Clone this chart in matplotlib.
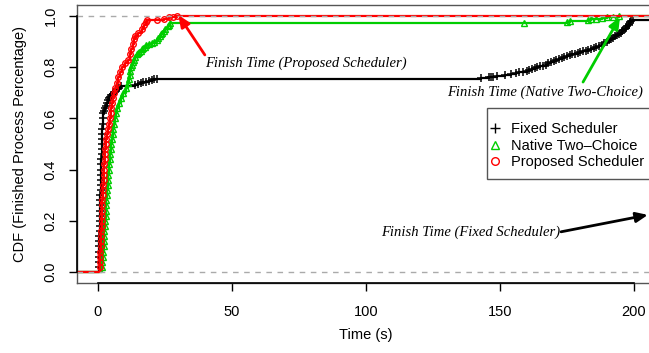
import matplotlib
matplotlib.use("Agg")
import matplotlib.pyplot as plt
from matplotlib.patches import Rectangle

# Completion times (s) and cumulative fraction of finished processes
fixed_t = [0.25, 0.3, 0.35, 0.4, 0.45, 0.5, 0.55, 0.6, 0.65, 0.7, 0.75, 0.8, 0.85,
           0.9, 0.95, 1.0, 1.05, 1.1, 1.15, 1.2, 1.25, 1.3, 1.35, 1.4, 1.45, 1.5,
           1.6, 1.7, 1.8, 1.9, 2.0,
           2.3, 2.6, 3.0, 3.3, 3.7, 4.1, 4.5, 5.0, 5.5, 5.9, 6.4, 6.8, 7.3, 7.8,
           8.5, 14.0, 15.0, 16.0, 17.0, 18.0, 19.0, 20.0, 21.0, 22.0,
           143.0, 146.0, 146.5, 147.5, 149.0, 152.0, 154.0, 156.0, 157.0, 158.5,
           160.0, 161.0, 162.0, 163.0, 164.0, 165.0, 166.0, 167.0, 168.0, 169.0,
           170.0, 171.0, 172.0, 173.0, 174.0, 175.0, 176.0, 177.0, 178.0, 179.0,
           180.0, 181.0, 182.0, 183.0, 184.0, 185.0, 186.0, 187.0, 188.0, 189.0,
           190.0, 190.8, 191.5, 192.3, 193.0, 193.8, 194.5, 195.0, 195.5, 196.0,
           196.5, 197.0, 197.5, 198.0, 198.3, 198.7, 199.0, 199.7]
fixed_p = [0.02, 0.04, 0.06, 0.08, 0.10, 0.12, 0.14, 0.16, 0.18, 0.20, 0.22, 0.24,
           0.26, 0.28, 0.30, 0.32, 0.34, 0.36, 0.38, 0.40, 0.42, 0.44, 0.46, 0.48,
           0.50, 0.52, 0.54, 0.56, 0.58, 0.60, 0.62,
           0.63, 0.64, 0.65, 0.66, 0.67, 0.68, 0.685, 0.69, 0.695, 0.70, 0.705,
           0.71, 0.715, 0.72, 0.725, 0.73, 0.734, 0.738, 0.741, 0.744, 0.747,
           0.75, 0.752, 0.754,
           0.757, 0.76, 0.761, 0.763, 0.766, 0.77, 0.774, 0.778, 0.78, 0.782,
           0.786, 0.79, 0.793, 0.796, 0.80, 0.803, 0.806, 0.81, 0.815, 0.82,
           0.825, 0.83, 0.833, 0.836, 0.84, 0.845, 0.848, 0.85, 0.853, 0.856,
           0.86, 0.862, 0.864, 0.866, 0.87, 0.875, 0.878, 0.882, 0.887, 0.893,
           0.90, 0.905, 0.91, 0.915, 0.92, 0.925, 0.93, 0.935, 0.94, 0.945,
           0.95, 0.955, 0.96, 0.966, 0.97, 0.975, 0.98, 0.985]

native_t = [1.5, 1.65, 1.8, 1.95, 2.1, 2.2, 2.35, 2.45, 2.6, 2.7, 2.85, 2.95, 3.1,
            3.2, 3.35, 3.5, 3.6, 3.75, 3.9, 4.1, 4.25, 4.4, 4.6, 4.8, 5.0, 5.25,
            5.5, 5.8, 6.1, 6.45, 6.8, 7.2, 7.9, 8.8, 9.5, 10.5, 11.3, 11.6, 11.8,
            12.05, 12.3, 12.6, 13.0, 13.5, 14.0, 14.6, 15.0, 15.5, 16.0, 16.5,
            17.0, 17.5, 18.0, 19.0, 20.0, 21.0, 22.0, 22.5, 23.0, 23.5, 24.0,
            24.5, 25.0, 26.0, 26.5, 27.0,
            159.0, 175.0, 176.0, 183.0, 184.0, 186.0, 188.0, 190.0, 192.0, 194.5]
native_p = [0.02, 0.04, 0.06, 0.08, 0.10, 0.12, 0.14, 0.16, 0.18, 0.20, 0.22,
            0.24, 0.26, 0.28, 0.30, 0.32, 0.34, 0.36, 0.38, 0.40, 0.42, 0.44,
            0.46, 0.48, 0.50, 0.52, 0.54, 0.56, 0.58, 0.60, 0.62, 0.64, 0.66,
            0.68, 0.70, 0.72, 0.74, 0.755, 0.77, 0.785, 0.80, 0.81, 0.82, 0.83,
            0.84, 0.85, 0.855, 0.86, 0.865, 0.87, 0.875, 0.88, 0.885, 0.89,
            0.895, 0.90, 0.905, 0.913, 0.92, 0.928, 0.935, 0.943, 0.95, 0.96,
            0.966, 0.971,
            0.974, 0.977, 0.98, 0.984, 0.987, 0.99, 0.993, 0.995, 0.997, 1.0]

proposed_t = [0.6, 0.7, 0.8, 0.9, 1.0, 1.1, 1.2, 1.3, 1.35, 1.4, 1.5, 1.6, 1.65,
              1.7, 1.8, 1.9, 2.0, 2.1, 2.2, 2.3, 2.4, 2.5, 2.7, 2.8, 3.0, 3.2,
              3.4, 3.7, 4.0, 4.4, 4.7, 5.0, 5.3, 5.6, 6.0, 6.5, 7.0, 7.6, 8.2,
              9.0, 10.0, 11.3, 11.8, 12.4, 13.0, 13.5, 13.8, 15.0, 16.3, 17.3,
              17.9, 18.4, 22.0, 24.5, 26.5, 28.0, 29.5]
proposed_p = [0.02, 0.04, 0.06, 0.08, 0.10, 0.12, 0.14, 0.16, 0.18, 0.20, 0.22,
              0.24, 0.26, 0.28, 0.30, 0.32, 0.34, 0.36, 0.38, 0.40, 0.42, 0.44,
              0.46, 0.48, 0.50, 0.52, 0.54, 0.56, 0.58, 0.60, 0.62, 0.64, 0.66,
              0.68, 0.70, 0.72, 0.74, 0.76, 0.78, 0.80, 0.815, 0.83, 0.85, 0.87,
              0.89, 0.91, 0.92, 0.935, 0.95, 0.965, 0.975, 0.984, 0.986, 0.99,
              0.995, 0.997, 1.0]

series_names = ["Fixed Scheduler", "Native Two\u2013Choice", "Proposed Scheduler"]
x_ticks = [0, 50, 100, 150, 200]
y_ticks = [0.0, 0.2, 0.4, 0.6, 0.8, 1.0]

SANS = "Liberation Sans"
SERIF = "Liberation Serif"
GREEN = "#00CD00"
plt.rcParams["font.family"] = SANS

fig = plt.figure(figsize=(6.49, 3.53), dpi=100)
x0, x1 = -7.8, 208.0
y0, y1 = -0.043, 1.043
ax = fig.add_axes([77 / 649, 70 / 353, (655.4 - 77) / 649, 278 / 353])
ax.set_xlim(x0, x1)
ax.set_ylim(y0, y1)


def draw_ecdf(t, p, color, marker, ms, mew):
    xs = [x0] + list(t) + [x1]
    ys = [0.0] + list(p) + [p[-1]]
    ax.plot(xs, ys, drawstyle="steps-post", color=color, lw=1.6, zorder=3)
    ax.plot(t, p, ls="none", marker=marker, mfc="none", mec=color, ms=ms,
            mew=mew, zorder=3)


draw_ecdf(fixed_t, fixed_p, "black", "+", 6, 1.1)
draw_ecdf(native_t, native_p, GREEN, "^", 4.5, 1.0)
draw_ecdf(proposed_t, proposed_p, "red", "o", 4.0, 1.0)

# reference lines at 0 and 1
for yv in (0.0, 1.0):
    ax.axhline(yv, color="#AAAAAA", lw=1.0, ls=(0, (4, 4)), zorder=4)

# frame and axes
for s in ax.spines.values():
    s.set_color("#555555")
    s.set_linewidth(1.0)
ax.plot([x_ticks[0], x_ticks[-1]], [y0, y0], color="black", lw=1.2,
        clip_on=False, zorder=5)
ax.plot([x0, x0], [y_ticks[0], y_ticks[-1]], color="black", lw=1.2,
        clip_on=False, zorder=5)

ax.set_xticks(x_ticks)
ax.set_xticklabels([str(v) for v in x_ticks])
ax.set_yticks(y_ticks)
ax.set_yticklabels([f"{v:.1f}" for v in y_ticks], rotation=90, va="center")
ax.tick_params(axis="x", direction="out", length=6, width=1.0,
               color="black", labelsize=10.5, pad=10)
ax.tick_params(axis="y", direction="out", length=6, width=1.0,
               color="black", labelsize=10.5, pad=8)
ax.set_xlabel("Time (s)", fontsize=10.5, labelpad=6)
ax.set_ylabel("CDF (Finished Process Percentage)", fontsize=10.5, labelpad=12)

# legend
fig.patches.append(Rectangle((487 / 649, 1 - 179 / 353), 200 / 649, 71 / 353,
                             transform=fig.transFigure, fill=True,
                             facecolor="white", edgecolor="#555555", lw=1.0,
                             zorder=7))
handles = [
    plt.Line2D([], [], ls="none", marker="+", color="black", ms=7, mew=1.0),
    plt.Line2D([], [], ls="none", marker="^", mfc="none", mec=GREEN, ms=6, mew=1.0),
    plt.Line2D([], [], ls="none", marker="o", mfc="none", mec="red", ms=5.5, mew=1.0),
]
leg = fig.legend(handles, series_names, loc="upper left",
                 bbox_to_anchor=(489 / 649, 1 - 122 / 353),
                 fontsize=10.5, frameon=False, handlelength=0.8,
                 handletextpad=0.7, labelspacing=0.18, borderpad=0,
                 borderaxespad=0)
leg.set_zorder(8)

# annotations
arrow_kw = dict(arrowstyle="-|>,head_length=0.7,head_width=0.3", lw=2.0,
                shrinkA=0, shrinkB=0)
ax.annotate("", xy=(30.0, 1.004), xytext=(39.9, 0.848),
            arrowprops=dict(color="red", **arrow_kw), zorder=6)
ax.text(39.9, 0.816, "Finish Time (Proposed Scheduler)", family=SERIF,
        style="italic", fontsize=10.5, ha="left", va="center")

ax.annotate("", xy=(194.8, 0.996), xytext=(181.0, 0.742),
            arrowprops=dict(color=GREEN, **arrow_kw), zorder=6)
ax.text(130.2, 0.703, "Finish Time (Native Two-Choice)", family=SERIF,
        style="italic", fontsize=10.5, ha="left", va="center")

ax.annotate("", xy=(205.2, 0.223), xytext=(172.8, 0.157),
            arrowprops=dict(color="black", **arrow_kw), zorder=6,
            annotation_clip=False)
ax.text(172.4, 0.157, "Finish Time (Fixed Scheduler)", family=SERIF,
        style="italic", fontsize=10.5, ha="right", va="center")

fig.savefig("out.png", dpi=100)
